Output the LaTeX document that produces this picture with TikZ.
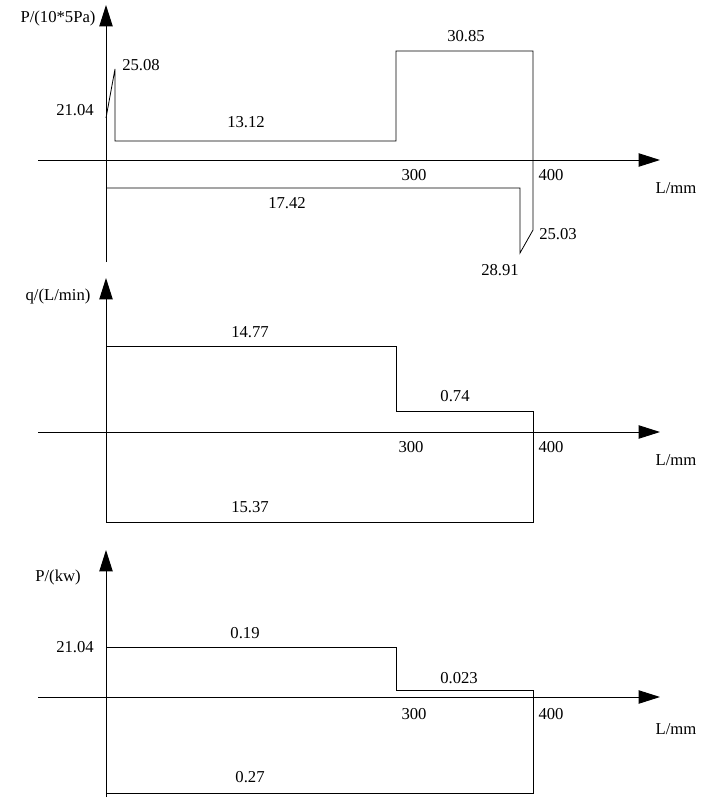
\documentclass[tikz,border=0pt]{standalone}
\usepackage{fontspec}
\setmainfont{Liberation Serif}
\usetikzlibrary{arrows.meta}
\begin{document}
\begin{tikzpicture}[x=0.75pt,y=-0.75pt,
  ax/.style={line width=0.7pt,-{Triangle[length=16pt,width=10pt]}},
  ln/.style={line width=0.6pt},
  lb/.style={font=\fontsize{12.5}{14}\selectfont,inner sep=0pt}]
\useasboundingbox (0,0) rectangle (704,806);
% plot 1
\draw[ax] (38,160) -- (660,160) coordinate (x1);
\draw[ax] (106,262) -- (106,5) coordinate (y1);
\draw[ln] (106,118) -- (115,69) -- (115,141) -- (396,141) -- (396,51) -- (533,51) -- (533,230) -- (520,253) -- (520,188) -- (106,188);
\node[lb] (a1) at (58,18) {P/(10*5Pa)};
\node[lb] (a2) at (141,65) {25.08};
\node[lb] (a3) at (75,110) {21.04};
\node[lb] (a4) at (246,122) {13.12};
\node[lb] (a5) at (466,36) {30.85};
\node[lb] (a6) at (414,175) {300};
\node[lb] (a7) at (551,175) {400};
\node[lb] (a8) at (676,188) {L/mm};
\node[lb] (a9) at (287,203) {17.42};
\node[lb] (a10) at (500,270) {28.91};
\node[lb] (a11) at (558,234) {25.03};
% plot 2
\draw[ax] (38,432) -- (660,432) coordinate (x2);
\draw[ax] (106,522) -- (106,278) coordinate (y2);
\draw[ln] (106,346) -- (396,346) -- (396,411) -- (533,411) -- (533,522) -- (106,522);
\node[lb] (b1) at (58,296) {q/(L/min)};
\node[lb] (b2) at (250,332) {14.77};
\node[lb] (b3) at (455,396) {0.74};
\node[lb] (b4) at (411,447) {300};
\node[lb] (b5) at (551,447) {400};
\node[lb] (b6) at (676,460) {L/mm};
\node[lb] (b7) at (250,507) {15.37};
% plot 3
\draw[ax] (38,697) -- (660,697) coordinate (x3);
\draw[ax] (106,797) -- (106,550) coordinate (y3);
\draw[ln] (106,647) -- (396,647) -- (396,690) -- (533,690) -- (533,793) -- (106,793);
\node[lb] (c1) at (58,577) {P/(kw)};
\node[lb] (c2) at (75,647) {21.04};
\node[lb] (c3) at (245,633) {0.19};
\node[lb] (c4) at (459,678) {0.023};
\node[lb] (c5) at (414,714) {300};
\node[lb] (c6) at (551,714) {400};
\node[lb] (c7) at (676,729) {L/mm};
\node[lb] (c8) at (250,777) {0.27};
\end{tikzpicture}
\end{document}
